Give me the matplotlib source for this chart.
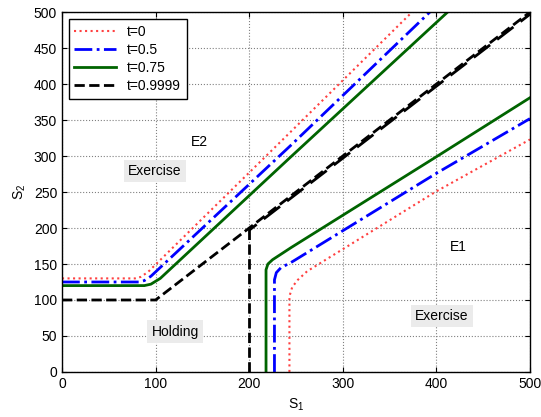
import numpy as np
import matplotlib
matplotlib.use('Agg')
import matplotlib.pyplot as plt

plt.rcParams['font.family'] = ['Liberation Sans', 'DejaVu Sans']
plt.rcParams['mathtext.default'] = 'regular'
plt.rcParams['font.size'] = 10

# upper boundary (E2 side) for each t
up_x = {
    't=0':      [0, 78, 84, 92, 244.6, 374],
    't=0.5':    [0, 82, 88, 95, 244.6, 393],
    't=0.75':   [0, 88, 95, 105, 244.6, 412],
    't=0.9999': [0, 100, 500],
}
up_y = {
    't=0':      [130, 130, 132, 139, 334, 500],
    't=0.5':    [125, 125, 127, 133, 315, 500],
    't=0.75':   [120, 120, 122, 130, 299, 500],
    't=0.9999': [100, 100, 500],
}
# lower boundary (E1 side)
lo_x = {
    't=0':      [243, 243, 246, 252, 262, 400, 500],
    't=0.5':    [227, 227, 229, 234, 244.6, 400, 500],
    't=0.75':   [218, 218, 220, 225, 245, 400, 500],
}
lo_y = {
    't=0':      [0, 105, 118, 128, 140, 251, 323],
    't=0.5':    [0, 128, 138, 145, 152, 276, 352],
    't=0.75':   [0, 142, 150, 156, 173, 299, 381],
}
# t=0.9999 lower boundary: vertical part and diagonal part
lo_vert_x = [200, 200]
lo_vert_y = [0, 200]
lo_diag_x = [200, 500]
lo_diag_y = [197, 497]

styles = {
    't=0':      dict(color='#ff4040', ls=':', lw=1.5),
    't=0.5':    dict(color='#0000ff', ls='-.', lw=2),
    't=0.75':   dict(color='#006400', ls='-', lw=2),
    't=0.9999': dict(color='black', ls='--', lw=2),
}

fig = plt.figure(figsize=(5.41, 4.17), dpi=100)
ax = fig.add_axes([0.1146, 0.108, 0.865, 0.863])

for k in ['t=0', 't=0.5', 't=0.75']:
    ax.plot(up_x[k], up_y[k], label=k, **styles[k])
    ax.plot(lo_x[k], lo_y[k], **styles[k])

k = 't=0.9999'
ax.plot(up_x[k], up_y[k], label=k, **styles[k])
ax.plot(lo_vert_x, lo_vert_y, **styles[k])
# match dash phase of the upper line so the pair reads as "=" marks
ax.plot(lo_diag_x, lo_diag_y, color='black', lw=2, ls=(152.4 % 10.6, (7.4, 3.2)))

box = dict(facecolor='#ebebeb', edgecolor='none', pad=3)
ax.text(147, 319, 'E2', ha='center', va='center')
ax.text(99, 279, 'Exercise', ha='center', va='center', bbox=box)
ax.text(121, 56, 'Holding', ha='center', va='center', bbox=box)
ax.text(423, 174, 'E1', ha='center', va='center')
ax.text(406, 78, 'Exercise', ha='center', va='center', bbox=box)

ax.set_xlim(0, 500)
ax.set_ylim(0, 500)
ax.set_xticks(np.arange(0, 501, 100))
ax.set_yticks(np.arange(0, 501, 50))
ax.grid(True, ls=':', color='#808080', lw=0.8)
ax.tick_params(direction='in', top=True, right=True)
ax.set_xlabel('S$_1$')
ax.set_ylabel('S$_2$')
for s in ax.spines.values():
    s.set_linewidth(1)

leg = ax.legend(loc='upper left', fancybox=False, edgecolor='black',
                framealpha=1, handlelength=3, borderaxespad=0.5,
                labelspacing=0.3)
leg.get_frame().set_linewidth(1)

fig.savefig('out.png', dpi=100)
